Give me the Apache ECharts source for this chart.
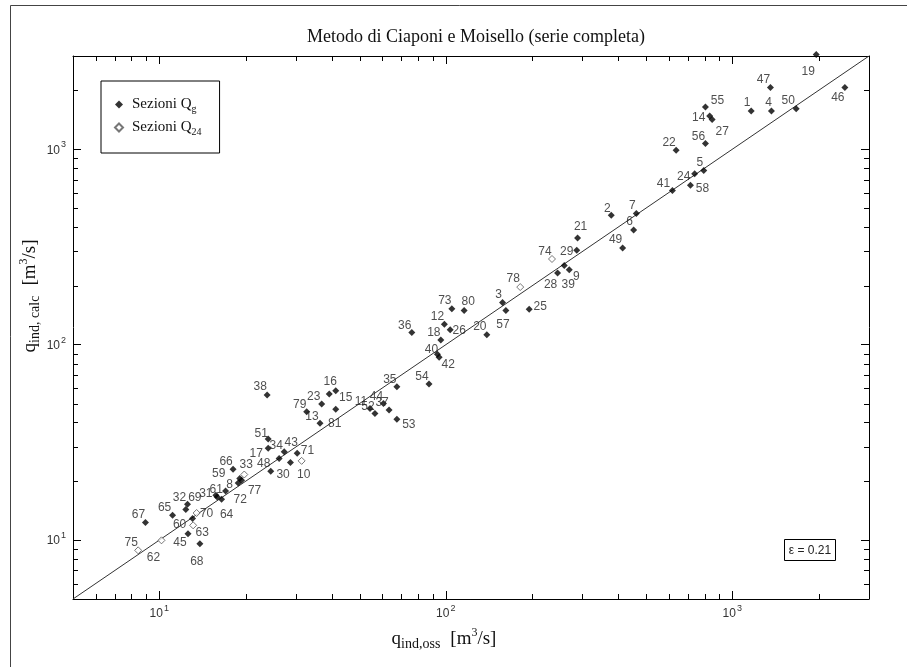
<!DOCTYPE html>
<html><head><meta charset="utf-8">
<script src="https://cdn.jsdelivr.net/npm/echarts@6/dist/echarts.min.js"></script>
<style>html,body{margin:0;padding:0;background:#fff}#c{width:907px;height:667px}</style>
</head><body><div id="c"></div>
<script>
// ---- Data: Sezioni Q_g (filled diamonds) ----
const qgIds  = [1,2,3,4,5,6,7,8,9,11,12,13,14,15,16,17,18,19,20,21,22,23,24,25,26,27,28,29,30,31,32,34,35,36,37,38,39,40,41,42,43,44,45,46,47,48,49,50,51,52,53,54,55,56,57,58,59,60,61,64,65,66,67,68,69,71,72,73,77,79,80,81];
const qgObs  = [1164,378,157.8,1370,795,452.6,462.5,17.04,269.8,54.4,98.9,36.4,834,41.3,39.2,24.0,96.1,1963,139.1,288.4,636.7,36.9,739,195.5,103.6,850.4,245.6,286.5,26.2,15.76,12.55,27.3,67.5,76.1,63.4,23.8,259.1,93.5,618,94.8,30.3,60.6,12.6,2471,1359,24.5,414.2,1671,24.0,56.6,67.5,87.4,805.9,805.9,162.1,714.3,19.1,13.07,15.93,16.5,11.13,18.1,8.95,13.86,12.38,28.7,18.86,105,19.38,32.7,115.9,41.3];
const qgCalc = [1568,459,164.4,1568,778,385.7,468.6,17.86,241.9,47.2,127.4,39.6,1478,58.2,55.9,29.5,105.8,3050,112.3,351.7,989.5,49.7,749.6,151.7,119.1,1421,232.6,304.5,26.2,16.98,15.26,28.3,61.0,115.4,46.3,55.3,254.5,89.4,614.8,86.3,27.8,50.1,10.8,2067,2067,22.5,312.6,1613,32.9,44.5,41.5,63.0,1644,1071,149.6,654.5,20.7,12.89,16.64,16.19,13.4,23.07,12.3,9.6,14.33,25.0,19.63,152.6,20.26,45.4,149.6,46.7];
// ---- Data: Sezioni Q_24 (open diamonds) ----
const q24Ids  = [10,33,62,63,70,74,75,78];
const q24Obs  = [31.4,19.8,10.18,13.13,13.5,234.8,8.44,181.9];
const q24Calc = [25.45,21.67,9.98,11.91,13.77,274.5,8.87,197.2];
// ---- Bisector ----
const lineX = [5, 3000];
const lineY = [5, 3000];
const axisMin = 5, axisMax = 3000;
const titleText = 'Metodo di Ciaponi e Moisello (serie completa)';
const epsText = 'ε = 0.21';

// label placement (style only): offset of each id label from its marker, px
const labelOffset = {1:[-4,-8],2:[-4,-7],3:[-4,-8],4:[-3,-8],5:[-4,-8],6:[-4,-8],7:[-4,-8],8:[4,-6],9:[7,7],10:[2,14],11:[-9,-7],12:[-7,-7],13:[-8,-7],14:[-11,2],15:[10,7],16:[1,-12],17:[-12,5],18:[-7,-7],19:[-8,17],20:[-7,-8],21:[3,-11],22:[-7,-7],23:[-8,-7],24:[-11,3],25:[11,-3],26:[9,1],27:[10,12],28:[-7,12],29:[-10,1],30:[4,16],31:[-10,-2],32:[-8,-7],33:[2,-10],34:[-8,-6],35:[-7,-7],36:[-7,-7],37:[-7,-7],38:[-7,-8],39:[4,19],40:[-6,-5],41:[-9,-7],42:[9,7],43:[-6,-11],44:[-7,-7],45:[-8,9],46:[-7,10],47:[-7,-8],48:[-7,-8],49:[-7,-8],50:[-8,-8],51:[-7,-5],52:[-7,-7],53:[12,5],54:[-7,-7],55:[12,-6],56:[-7,-7],57:[-3,14],58:[12,3],59:[-21,-5],60:[-13,6],61:[-1,-7],62:[-8,17],63:[9,7],64:[5,15],65:[-8,-8],66:[-7,-8],67:[-7,-8],68:[-3,18],69:[9,-12],70:[10,1],71:[17,-12],72:[2,17],73:[-7,-8],74:[-7,-7],75:[-7,-8],77:[13,10],78:[-7,-8],79:[-7,-7],80:[4,-9],81:[-1,14]};

function build(ids, xs, ys) {
  return ids.map((id, i) => ({
    value: [xs[i], ys[i], id],
    label: { offset: labelOffset[id] || [-7,-7] }
  }));
}

const minorVals = [];
[1, 10, 100, 1000].forEach(d => { for (let m = 2; m <= 9; m++) { const v = m * d; if (v > axisMin && v < axisMax) minorVals.push(v); } });

const sansFont = 'Liberation Sans, Arial, sans-serif';
const serifFont = 'Liberation Serif, Times New Roman, serif';

function powLabel(v) {
  const l = Math.log10(v); const e = Math.round(l);
  if (Math.abs(l - e) > 0.01) return '';
  return '{b|10}{s|' + e + '}';
}
const tickRich = {
  b: { fontSize: 12, fontFamily: sansFont, color: '#333', verticalAlign: 'bottom', lineHeight: 14 },
  s: { fontSize: 9, fontFamily: sansFont, color: '#333', verticalAlign: 'bottom', lineHeight: 14, padding: [0, 0, 7, 1] }
};

function logAxis(pos, showLabel) {
  return {
    type: 'log', logBase: 10, min: axisMin, max: axisMax, position: pos, gridIndex: 0,
    axisLine: { show: true, onZero: false, lineStyle: { color: '#000', width: 1 } },
    axisTick: { show: true, inside: true, length: 8, lineStyle: { color: '#000' } },
    axisLabel: { show: showLabel, margin: 7, formatter: powLabel, rich: tickRich },
    splitLine: { show: false }, minorTick: { show: false }
  };
}

const chart = echarts.init(document.getElementById('c'), null, { renderer: 'canvas' });
const L = 5;
function tl(x1, y1, x2, y2) {
  return { type: 'line', shape: { x1: x1, y1: y1, x2: x2, y2: y2 }, style: { stroke: '#000', lineWidth: 1 } };
}
const titleRich = {
  q: { fontFamily: serifFont, fontSize: 19, fill: '#111', lineHeight: 24 },
  sub: { fontFamily: serifFont, fontSize: 14, fill: '#111', lineHeight: 24, verticalAlign: 'bottom' },
  sup: { fontFamily: serifFont, fontSize: 12, fill: '#111', lineHeight: 24, verticalAlign: 'top' }
};

const option = {
  backgroundColor: '#fff',
  animation: false,
  title: {
    text: titleText, left: 471, top: 23, textAlign: 'center',
    textStyle: { fontFamily: serifFont, fontSize: 18, fontWeight: 'normal', color: '#111' }
  },
  grid: { left: 73, right: 38, top: 56, bottom: 68, containLabel: false },
  xAxis: [logAxis('bottom', true), logAxis('top', false)],
  yAxis: [logAxis('left', true), logAxis('right', false)],
  legend: {
    left: 101, top: 81, orient: 'vertical',
    data: ['Sezioni Qg', 'Sezioni Q24'],
    borderColor: '#000', borderWidth: 1, borderRadius: 0,
    padding: [16, 18, 16, 13], itemGap: 6, itemWidth: 8, itemHeight: 8,
    formatter: function (name) { return name === 'Sezioni Qg' ? '{t|Sezioni Q}{s|g}' : '{t|Sezioni Q}{s|24}'; },
    textStyle: {
      padding: [0, 0, 0, 4],
      rich: {
        t: { fontFamily: serifFont, fontSize: 15, color: '#111', lineHeight: 15 },
        s: { fontFamily: serifFont, fontSize: 10, color: '#111', lineHeight: 15, verticalAlign: 'top', padding: [7, 0, 0, 0] }
      }
    }
  },
  series: [
    {
      name: 'bisector', type: 'line', xAxisIndex: 0, yAxisIndex: 0,
      data: lineX.map((x, i) => [x, lineY[i]]), symbol: 'none', silent: true,
      lineStyle: { color: '#333', width: 1 }, z: 1
    },
    {
      name: 'minor', type: 'custom', xAxisIndex: 0, yAxisIndex: 0, silent: true, clip: false,
      data: minorVals.map(v => [v, v]), encode: { x: 0, y: 1 },
      renderItem: function (params, api) {
        const v = api.value(0);
        const b = api.coord([v, axisMin]), t = api.coord([v, axisMax]);
        const l = api.coord([axisMin, v]), r = api.coord([axisMax, v]);
        const bx = Math.round(b[0]) + 0.5, ty = Math.round(l[1]) + 0.5;
        return { type: 'group', children: [
          tl(bx, b[1], bx, b[1] - L), tl(bx, t[1], bx, t[1] + L),
          tl(l[0], ty, l[0] + L, ty), tl(r[0], ty, r[0] - L, ty)
        ] };
      }, z: 3
    },
    {
      name: 'Sezioni Qg', type: 'scatter', xAxisIndex: 0, yAxisIndex: 0, clip: false,
      symbol: 'diamond', symbolSize: 7,
      itemStyle: { color: '#000' },
      label: { show: true, position: 'inside', formatter: p => String(p.value[2]), fontFamily: sansFont, fontSize: 12, color: '#222' },
      data: build(qgIds, qgObs, qgCalc), z: 5
    },
    {
      name: 'Sezioni Q24', type: 'scatter', xAxisIndex: 0, yAxisIndex: 0, clip: false,
      symbol: 'diamond', symbolSize: 7,
      itemStyle: { color: '#fff', borderColor: '#555', borderWidth: 1 },
      label: { show: true, position: 'inside', formatter: p => String(p.value[2]), fontFamily: sansFont, fontSize: 12, color: '#222' },
      data: build(q24Ids, q24Obs, q24Calc), z: 5
    }
  ],
  graphic: [
    { type: 'polyline', shape: { points: [[10.5, 700], [10.5, 5.5], [920, 5.5]] }, style: { stroke: '#444', lineWidth: 1, fill: null }, silent: true },
    { type: 'text', x: 444, y: 639, style: {
        text: '{q|q}{sub|ind,oss}   {q|[m}{sup|3}{q|/s]}', align: 'center', verticalAlign: 'middle', rich: titleRich } },
    { type: 'text', x: 30, y: 296, rotation: Math.PI / 2, style: {
        text: '{q|q}{sub|ind, calc}   {q|[m}{sup|3}{q|/s]}', align: 'center', verticalAlign: 'middle', rich: titleRich } },
    { type: 'rect', shape: { x: 784.5, y: 539.5, width: 51, height: 21 }, style: { fill: '#fff', stroke: '#000', lineWidth: 1 }, z: 10 },
    { type: 'text', x: 810, y: 550.5, z: 11, style: { text: epsText, align: 'center', verticalAlign: 'middle', font: '12px ' + sansFont, fill: '#222' } }
  ]
};
chart.setOption(option);
</script></body></html>
